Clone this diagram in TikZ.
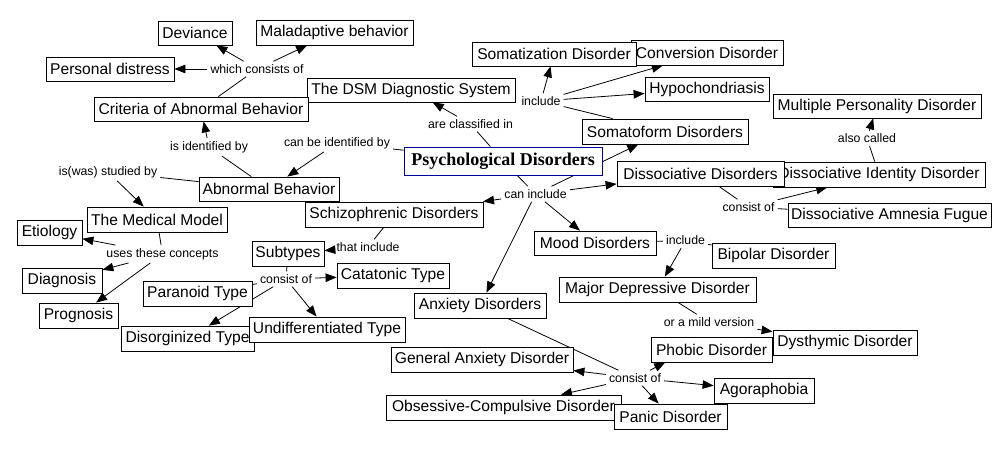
\documentclass[tikz,border=0pt]{standalone}
\usepackage{fontspec}
\setmainfont{Liberation Sans}
\newfontfamily\pdserif{Liberation Serif}
\usetikzlibrary{arrows.meta,calc}
\pgfdeclarelayer{back}
\pgfdeclarelayer{bg}
\pgfsetlayers{back,bg,main}
\definecolor{pdblue}{RGB}{0,0,160}
\newcommand{\boxfnt}{\fontsize{15.6pt}{18pt}\selectfont}
\newcommand{\lblfnt}{\fontsize{12.3pt}{14pt}\selectfont}
\tikzset{
  box/.style={draw, fill=white, line width=0.8pt, inner sep=0pt, font=\boxfnt},
  mainbox/.style={draw=pdblue, fill=white, line width=0.8pt, inner sep=0pt, font=\pdserif\bfseries\fontsize{18pt}{20pt}\selectfont},
  lbl/.style={inner xsep=3pt, inner ysep=3pt, font=\lblfnt},
  con/.style={line width=0.8pt},
  arr/.style={con, -{Triangle[length=11pt,width=8.5pt]}}
}
\begin{document}
\begin{tikzpicture}[x=1pt,y=-1pt]
\useasboundingbox (0,0) rectangle (1001,449);
\begin{pgfonlayer}{back}
\fill[white] (0,0) rectangle (1001,449);
\end{pgfonlayer}
% linking phrases
\node[lbl] (wco) at (257,69) {which consists of};
\node[lbl] (iib) at (209,147) {is identified by};
\node[lbl] (cbib) at (337,143) {can be identified by};
\node[lbl] (iwsb) at (108,172) {is(was) studied by};
\node[lbl] (utc) at (162.5,254) {uses these concepts};
\node[lbl] (aci) at (470.5,124) {are classified in};
\node[lbl] (inc1) at (541,101) {include};
\node[lbl] (ci) at (535.5,194) {can include};
\node[lbl] (ac) at (867,138.5) {also called};
\node[lbl] (co1) at (748.5,207) {consist of};
\node[lbl] (ti) at (368,247) {that include};
\node[lbl] (co2) at (286,279) {consist of};
\node[lbl] (inc2) at (685.5,240.5) {include};
\node[lbl] (omv) at (709,322) {or a mild version};
\node[lbl] (co3) at (635,378) {consist of};
% concepts
\node[box, minimum width=74pt, minimum height=24pt] (dev) at (195,33) {Deviance};
\node[box, minimum width=157pt, minimum height=25pt] (mal) at (334.5,32.5) {Maladaptive behavior};
\node[box, minimum width=128pt, minimum height=24pt] (pers) at (110,69) {Personal distress};
\node[box, minimum width=208pt, minimum height=24pt] (dsm) at (411,90) {The DSM Diagnostic System};
\node[box, minimum width=214pt, minimum height=24pt] (crit) at (201,109) {Criteria of Abnormal Behavior};
\node[box, minimum width=140pt, minimum height=24pt] (ab) at (269,189) {Abnormal Behavior};
\node[mainbox, minimum width=198pt, minimum height=28pt] (pd) at (503,161) {Psychological Disorders};
\node[box, minimum width=152pt, minimum height=25pt] (conv) at (707,52.5) {Conversion Disorder};
\node[box, minimum width=164pt, minimum height=24pt] (somz) at (554,54) {Somatization Disorder};
\node[box, minimum width=124pt, minimum height=24pt] (hypo) at (707,89) {Hypochondriasis};
\node[box, minimum width=166pt, minimum height=25pt] (somf) at (665,131.5) {Somatoform Disorders};
\node[box, minimum width=208pt, minimum height=24pt] (mpd) at (877,106) {Multiple Personality Disorder};
\node[box, minimum width=212pt, minimum height=25pt] (did) at (879,174.5) {Dissociative Identity Disorder};
\node[box, minimum width=167pt, minimum height=25pt] (dd) at (700.5,173.5) {Dissociative Disorders};
\node[box, minimum width=203pt, minimum height=24pt] (amn) at (889.5,215) {Dissociative Amnesia Fugue};
\node[box, minimum width=178pt, minimum height=25pt] (schiz) at (394,214.5) {Schizophrenic Disorders};
\node[box, minimum width=140pt, minimum height=25pt] (mm) at (157,219.5) {The Medical Model};
\node[box, minimum width=65pt, minimum height=25pt] (etio) at (49.5,232.5) {Etiology};
\node[box, minimum width=80pt, minimum height=25pt] (diag) at (62,280.5) {Diagnosis};
\node[box, minimum width=79pt, minimum height=25pt] (prog) at (78.5,315.5) {Prognosis};
\node[box, minimum width=72pt, minimum height=25pt] (sub) at (288,253.5) {Subtypes};
\node[box, minimum width=112pt, minimum height=25pt] (cat) at (393,275.5) {Catatonic Type};
\node[box, minimum width=109pt, minimum height=25pt] (par) at (197.5,293.5) {Paranoid Type};
\node[box, minimum width=133pt, minimum height=25pt] (dis) at (187.5,338.5) {Disorginized Type};
\node[box, minimum width=156pt, minimum height=25pt] (und) at (327,329.5) {Undifferentiated Type};
\node[box, minimum width=132pt, minimum height=25pt] (anx) at (480,305.5) {Anxiety Disorders};
\node[box, minimum width=122pt, minimum height=24pt] (mood) at (595,243) {Mood Disorders};
\node[box, minimum width=123pt, minimum height=25pt] (bip) at (773.5,255.5) {Bipolar Disorder};
\node[box, minimum width=197pt, minimum height=25pt] (mdd) at (657.5,289.5) {Major Depressive Disorder};
\node[box, minimum width=182pt, minimum height=25pt] (gad) at (482,359.5) {General Anxiety Disorder};
\node[box, minimum width=235pt, minimum height=25pt] (ocd) at (503.5,407.5) {Obsessive-Compulsive Disorder};
\node[box, minimum width=113pt, minimum height=25pt] (panic) at (670.5,416.5) {Panic Disorder};
\node[box, minimum width=121pt, minimum height=25pt] (phob) at (711.5,349.5) {Phobic Disorder};
\node[box, minimum width=144pt, minimum height=25pt] (dys) at (845,342.5) {Dysthymic Disorder};
\node[box, minimum width=100pt, minimum height=25pt] (agor) at (764,390.5) {Agoraphobia};
% connectors
\begin{pgfonlayer}{bg}
\draw[con] (crit) -- (wco);
\draw[arr] (wco) -- (dev);
\draw[arr] (wco) -- (mal);
\draw[arr] (wco) -- (pers);
\draw[con] (ab) -- (iib);
\draw[arr] (iib) -- (crit);
\draw[con] (pd) -- (cbib);
\draw[arr] (cbib) -- (ab);
\draw[con] (ab) -- (iwsb);
\draw[arr] (iwsb) -- (mm);
\draw[con] (mm) -- (utc);
\draw[arr] (utc) -- (etio);
\draw[arr] (utc) -- (diag);
\draw[arr] (utc) -- (prog);
\draw[con] (pd) -- (aci);
\draw[arr] (aci) -- (dsm);
\draw[con] (somf) -- (inc1);
\draw[arr] (inc1) -- (somz);
\draw[arr] (inc1) -- (conv);
\draw[arr] (inc1) -- (hypo);
\draw[con] (pd) -- (ci);
\draw[arr] (ci) -- (somf);
\draw[arr] (ci) -- (dd);
\draw[arr] (ci) -- (schiz);
\draw[arr] (ci) -- (mood);
\draw[arr] (ci) -- (anx);
\draw[con] (did) -- (ac);
\draw[arr] (ac) -- (mpd);
\draw[con] (dd) -- (co1);
\draw[arr] (co1) -- (did);
\draw[con] (co1) -- (amn);
\draw[con] (schiz) -- (ti);
\draw[arr] (ti) -- (sub);
\draw[con] (sub) -- (co2);
\draw[arr] (co2) -- (cat);
\draw[con] (co2) -- (par);
\draw[arr] (co2) -- (dis);
\draw[arr] (co2) -- (und);
\draw[con] (mood) -- (inc2);
\draw[con] (inc2) -- (bip);
\draw[arr] (inc2) -- (mdd);
\draw[con] (mdd) -- (omv);
\draw[arr] (omv) -- (dys);
\draw[con] (anx) -- (co3);
\draw[arr] (co3) -- (gad);
\draw[arr] (co3) -- (ocd);
\draw[arr] (co3) -- (panic);
\draw[arr] (co3) -- ($(phob.south west)!0.12!(phob.south east)$);
\draw[arr] (co3) -- (agor);
\end{pgfonlayer}
\end{tikzpicture}
\end{document}
